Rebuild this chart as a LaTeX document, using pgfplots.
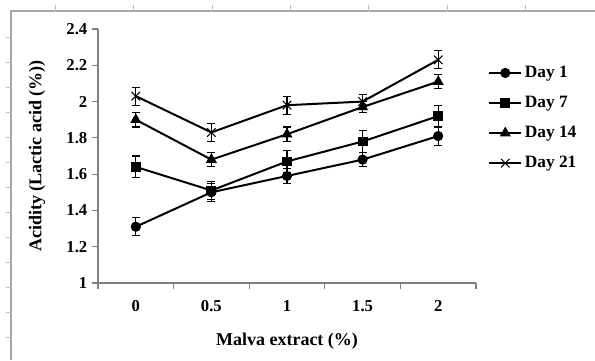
\documentclass[border=0pt]{standalone}
\usepackage{fontspec}
\setmainfont{Liberation Serif}
\usepackage{pgfplots}
\pgfplotsset{compat=1.18}
\begin{document}
\begin{tikzpicture}
\useasboundingbox (0pt,0pt) rectangle (446.25pt,-270pt);
% outer frame
\begin{scope}[x=0.75pt,y=-0.75pt]
\draw[gray!70,line width=0.8pt] (11,360) -- (11,11) -- (595,11);
\foreach \xx in {55,133,212,290,368,447,525} \draw[gray!50,line width=0.5pt] (\xx,5) -- (\xx,11);
\foreach \yy in {37,62,87,112,137,162,187,212,237,262,287,312,337} \draw[gray!50,line width=0.5pt] (6,\yy) -- (11,\yy);
\end{scope}
\begin{axis}[
  at={(73.5pt,-212.25pt)}, anchor=south west,
  scale only axis, width=283.5pt, height=190.5pt,
  xmin=-0.5, xmax=4.5, ymin=1, ymax=2.4,
  axis x line*=bottom, axis y line*=left,
  axis line style={gray, line width=0.8pt, -},
  xtick={0,1,2,3,4}, xticklabels={0,0.5,1,1.5,2},
  minor xtick={-0.5,0.5,1.5,2.5,3.5,4.5},
  ytick={1,1.2,...,2.41},
  yticklabel style={/pgf/number format/fixed,/pgf/number format/precision=1},
  major x tick style={draw=none},
  minor x tick style={gray, line width=0.8pt},
  y tick style={gray, line width=0.8pt},
  tick align=outside, major tick length=4.5pt, minor tick length=4.5pt,
  /pgf/number format/assume math mode=true,
  ticklabel style={font=\fontsize{12.5}{14}\selectfont\bfseries},
  xticklabel style={yshift=-5pt},
  label style={font=\fontsize{13.5}{15}\selectfont\bfseries},
  xlabel={Malva extract (\%)},
  ylabel={Acidity (Lactic acid (\%))},
  xlabel style={yshift=-9pt},
  ylabel style={yshift=9pt},
  legend style={at={(1.032,0.865)}, anchor=north west, draw=none, fill=none,
    font=\fontsize{13}{15}\selectfont\bfseries, row sep=8.5pt, inner sep=0pt},
  legend cell align=left,
  legend image code/.code={\draw[mark repeat=2,mark phase=2,#1] plot coordinates {(0cm,0cm) (0.42cm,0cm) (0.84cm,0cm)};},
  every axis plot/.append style={black, line width=1.5pt, mark options={solid, line width=0.8pt}},
  error bars/error bar style={line width=0.8pt},
  error bars/error mark options={rotate=90, mark size=3pt, line width=0.8pt},
  clip=false,
]
\addplot[black, mark=*, mark size=3.4pt, error bars/.cd, y dir=both, y explicit]
  coordinates {(0,1.31) +- (0,0.05) (1,1.50) +- (0,0.05) (2,1.59) +- (0,0.04) (3,1.68) +- (0,0.04) (4,1.81) +- (0,0.05)};
\addlegendentry{Day 1}
\addplot[black, mark=square*, mark size=3.3pt, error bars/.cd, y dir=both, y explicit]
  coordinates {(0,1.64) +- (0,0.06) (1,1.51) +- (0,0.05) (2,1.67) +- (0,0.06) (3,1.78) +- (0,0.06) (4,1.92) +- (0,0.06)};
\addlegendentry{Day 7}
\addplot[black, mark=triangle*, mark size=4pt, error bars/.cd, y dir=both, y explicit]
  coordinates {(0,1.90) +- (0,0.04) (1,1.68) +- (0,0.04) (2,1.82) +- (0,0.04) (3,1.97) +- (0,0.03) (4,2.11) +- (0,0.04)};
\addlegendentry{Day 14}
\addplot[black, mark=x, mark size=4.5pt, error bars/.cd, y dir=both, y explicit]
  coordinates {(0,2.03) +- (0,0.05) (1,1.83) +- (0,0.05) (2,1.98) +- (0,0.05) (3,2.00) +- (0,0.04) (4,2.23) +- (0,0.05)};
\addlegendentry{Day 21}
\end{axis}
\end{tikzpicture}
\end{document}
